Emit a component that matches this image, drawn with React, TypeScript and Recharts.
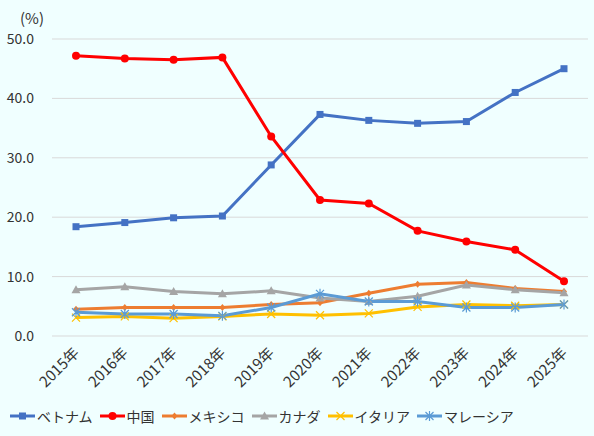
// Recharts line chart: export share by country, 2015-2025

import { LineChart, Line, XAxis, YAxis, CartesianGrid, Legend } from 'recharts';

const years = ['2015年', '2016年', '2017年', '2018年', '2019年', '2020年', '2021年', '2022年', '2023年', '2024年', '2025年'];
const vietnam = [18.4, 19.1, 19.9, 20.2, 28.8, 37.3, 36.3, 35.8, 36.1, 41.0, 45.0];
const china = [47.2, 46.7, 46.5, 46.9, 33.6, 22.9, 22.3, 17.7, 15.9, 14.5, 9.2];
const mexico = [4.5, 4.8, 4.8, 4.8, 5.3, 5.6, 7.2, 8.7, 9.0, 8.0, 7.5];
const canada = [7.8, 8.3, 7.5, 7.1, 7.6, 6.4, 5.8, 6.7, 8.6, 7.8, 7.3];
const italy = [3.1, 3.3, 3.0, 3.3, 3.7, 3.5, 3.8, 4.9, 5.3, 5.1, 5.3];
const malaysia = [4.0, 3.7, 3.7, 3.4, 4.8, 7.1, 5.8, 5.8, 4.8, 4.8, 5.3];
const yTicks = [0, 10, 20, 30, 40, 50];

const data = years.map((year, i) => ({
  year,
  vietnam: vietnam[i],
  china: china[i],
  mexico: mexico[i],
  canada: canada[i],
  italy: italy[i],
  malaysia: malaysia[i],
}));

type Shape = 'square' | 'circle' | 'diamond' | 'triangle' | 'x' | 'star';

const series: { key: string; name: string; color: string; shape: Shape }[] = [
  { key: 'vietnam', name: 'ベトナム', color: '#4472C4', shape: 'square' },
  { key: 'china', name: '中国', color: '#FF0000', shape: 'circle' },
  { key: 'mexico', name: 'メキシコ', color: '#ED7D31', shape: 'diamond' },
  { key: 'canada', name: 'カナダ', color: '#A5A5A5', shape: 'triangle' },
  { key: 'italy', name: 'イタリア', color: '#FFC000', shape: 'x' },
  { key: 'malaysia', name: 'マレーシア', color: '#5B9BD5', shape: 'star' },
];

const FONT = '"Noto Sans CJK JP", "Noto Sans", sans-serif';
const TEXT = '#333333';

function Marker({ cx, cy, shape, color }: { cx: number; cy: number; shape: Shape; color: string }) {
  if (cx == null || cy == null) return null;
  switch (shape) {
    case 'square':
      return <rect x={cx - 3.5} y={cy - 3.5} width={7} height={7} fill={color} />;
    case 'circle':
      return <circle cx={cx} cy={cy} r={4} fill={color} />;
    case 'diamond':
      return <path d={`M${cx},${cy - 3.5}L${cx + 3},${cy}L${cx},${cy + 3.5}L${cx - 3},${cy}Z`} fill={color} />;
    case 'triangle':
      return <path d={`M${cx},${cy - 4.5}L${cx + 4.5},${cy + 3.5}L${cx - 4.5},${cy + 3.5}Z`} fill={color} />;
    case 'x':
      return (
        <path d={`M${cx - 4},${cy - 4}L${cx + 4},${cy + 4}M${cx + 4},${cy - 4}L${cx - 4},${cy + 4}`} stroke={color} strokeWidth={1.2} fill="none" />
      );
    case 'star':
      return (
        <path
          d={`M${cx - 4},${cy - 4}L${cx + 4},${cy + 4}M${cx + 4},${cy - 4}L${cx - 4},${cy + 4}M${cx},${cy - 5}L${cx},${cy + 5}`}
          stroke={color}
          strokeWidth={1.2}
          fill="none"
        />
      );
  }
}

function YearTick({ x, y, payload }: { x?: number; y?: number; payload?: { value: string } }) {
  const tx = x! + 4;
  const ty = y! + 10;
  return (
    <text x={tx} y={ty} textAnchor="end" fontSize={15} fill={TEXT} fontFamily={FONT} transform={`rotate(-45, ${tx}, ${ty})`}>
      {payload?.value}
    </text>
  );
}

function ChartLegend() {
  return (
    <div style={{ display: 'flex', alignItems: 'center', fontFamily: FONT, fontSize: 14, color: TEXT, paddingLeft: 10 }}>
      {series.map(s => (
        <div key={s.key} style={{ display: 'flex', alignItems: 'center', marginRight: 7 }}>
          <svg width={25} height={12}>
            <line x1={0} y1={6} x2={25} y2={6} stroke={s.color} strokeWidth={3} />
            <Marker cx={12.5} cy={6} shape={s.shape} color={s.color} />
          </svg>
          <span style={{ marginLeft: 2 }}>{s.name}</span>
        </div>
      ))}
    </div>
  );
}

export default function App() {
  return (
    <div style={{ position: 'absolute', left: 0, top: 0, width: 594, height: 436, background: '#F0FFFF' }}>
      <div style={{ position: 'absolute', left: 20, top: 7, fontFamily: FONT, fontSize: 15, color: TEXT }}>(%)</div>
      <LineChart width={594} height={436} data={data} margin={{ top: 39, right: 6, left: 0, bottom: 0 }}>
        <CartesianGrid vertical={false} stroke="#D9D9D9" />
        <XAxis
          dataKey="year"
          axisLine={false}
          tickLine={false}
          tick={<YearTick />}
          height={70}
          interval={0}
          padding={{ left: 24, right: 24 }}
        />
        <YAxis
          domain={[0, 50]}
          ticks={yTicks}
          tickFormatter={v => v.toFixed(1)}
          axisLine={false}
          tickLine={false}
          width={52}
          tick={{ fill: TEXT, fontSize: 14, fontFamily: FONT, dx: -10 }}
        />
        <Legend verticalAlign="bottom" height={30} content={<ChartLegend />} />
        {series.map(s => (
          <Line
            key={s.key}
            dataKey={s.key}
            name={s.name}
            stroke={s.color}
            strokeWidth={3}
            isAnimationActive={false}
            dot={(p: any) => <Marker key={`${s.key}-${p.index}`} cx={p.cx} cy={p.cy} shape={s.shape} color={s.color} />}
            activeDot={false}
          />
        ))}
      </LineChart>
    </div>
  );
}
